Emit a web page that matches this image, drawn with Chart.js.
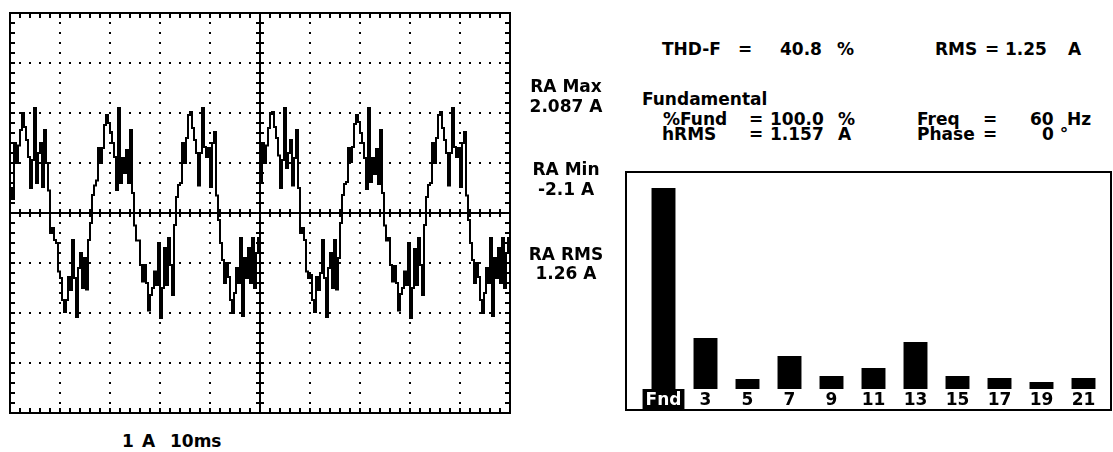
<!DOCTYPE html>
<html>
<head>
<meta charset="utf-8">
<script src="https://cdn.jsdelivr.net/npm/chart.js@4.4.1/dist/chart.umd.min.js"></script>
<style>
  html, body { margin: 0; padding: 0; background: #fff; }
  #page { position: relative; width: 1113px; height: 452px; overflow: hidden;
          font-family: "DejaVu Sans", sans-serif; font-weight: bold; font-size: 17px; line-height: 17px; color: #000; }
  .t { position: absolute; white-space: pre; }
  .c { position: absolute; left: 511px; width: 110px; text-align: center; white-space: pre; }
  #scope { position: absolute; left: 0; top: 0; }
  #harm { position: absolute; left: 625px; top: 171px; }
</style>
</head>
<body>
<div id="page">
  <canvas id="scope" width="520" height="420"></canvas>
  <canvas id="harm" width="487" height="240"></canvas>

  <div class="c" style="top:78px">RA Max</div>
  <div class="c" style="top:98px">2.087 A</div>
  <div class="c" style="top:161px">RA Min</div>
  <div class="c" style="top:181px">-2.1 A</div>
  <div class="c" style="top:246px">RA RMS</div>
  <div class="c" style="top:265px">1.26 A</div>

  <div class="t" style="left:122px; top:433px">1</div>
  <div class="t" style="left:142px; top:433px">A</div>
  <div class="t" style="left:170px; top:433px">10ms</div>

  <div class="t" style="left:662px; top:41px">THD-F</div>
  <div class="t" style="left:738px; top:41px">=</div>
  <div class="t" style="left:780px; top:41px">40.8</div>
  <div class="t" style="left:837px; top:41px">%</div>
  <div class="t" style="left:935px; top:41px">RMS</div>
  <div class="t" style="left:985px; top:41px">=</div>
  <div class="t" style="left:1005px; top:41px">1.25</div>
  <div class="t" style="left:1068px; top:41px">A</div>

  <div class="t" style="left:642px; top:91px">Fundamental</div>
  <div class="t" style="left:663px; top:111px">%Fund</div>
  <div class="t" style="left:749px; top:111px">=</div>
  <div class="t" style="left:770px; top:111px">100.0</div>
  <div class="t" style="left:838px; top:111px">%</div>
  <div class="t" style="left:917px; top:111px">Freq</div>
  <div class="t" style="left:983px; top:111px">=</div>
  <div class="t" style="left:1030px; top:111px">60</div>
  <div class="t" style="left:1067px; top:111px">Hz</div>

  <div class="t" style="left:662px; top:126px">hRMS</div>
  <div class="t" style="left:749px; top:126px">=</div>
  <div class="t" style="left:770px; top:126px">1.157</div>
  <div class="t" style="left:838px; top:126px">A</div>
  <div class="t" style="left:917px; top:126px">Phase</div>
  <div class="t" style="left:983px; top:126px">=</div>
  <div class="t" style="left:1042px; top:126px">0 °</div>
</div>

<script>
// scope trace, amps, one sample every 0.4 ms (cycle by cycle)
const sampleMs = 0.4;
const cycle1 = [0.5, 0.28, 1.4, 1.0, 1.35, 1.66, 2.0, 1.72, 1.46, 1.12, 0.5, 1.06, 2.1, 0.6, 1.2, 1.4, 0.52, 1.66, 1.0, 0.45,
  -0.4, -0.3, -0.54, -0.6, -1.17, -1.3, -1.74, -1.98, -1.74, -1.28, -1.54, -0.54, -1.3, -2.08, -1.1, -0.8, -1.5, -0.9, -1.53, -0.54, -0.2];
const cycle2 = [0.36, 0.55, 0.65, 1.3, 1.0, 1.3, 1.76, 1.96, 1.8, 1.62, 1.4, 1.12, 0.46, 2.1, 0.6, 1.1, 0.8, 1.26, 0.6, 1.66, 0.4,
  -0.25, -0.55, -0.55, -1.04, -1.37, -1.04, -1.4, -1.95, -1.64, -1.5, -1.17, -1.44, -0.6, -2.1, -1.5, -0.7, -1.44, -0.5, -1.04, -1.64, -0.24];
const cycle3 = [0.32, 0.56, 0.6, 1.4, 1.0, 1.5, 1.96, 2.02, 1.7, 1.46, 1.2, 0.55, 1.2, 2.1, 1.32, 1.12, 1.3, 0.52, 1.4, 1.62, 0.35,
  -0.14, -0.6, -0.94, -1.4, -1.0, -1.28, -1.74, -2.0, -1.6, -1.1, -1.4, -0.5, -2.06, -0.9, -1.3, -0.7, -1.4, -0.5, -1.5, -0.8, -0.5];
const cycle4 = [0.6, 1.4, 1.0, 1.35, 1.7, 1.98, 2.02, 1.72, 1.5, 1.15, 0.5, 1.06, 2.1, 0.9, 1.2, 1.46, 0.55, 1.1, 1.66, 0.5,
  -0.4, -0.3, -0.54, -1.17, -1.3, -1.24, -1.74, -1.98, -1.28, -1.54, -1.2, -0.54, -1.3, -2.08, -1.1, -0.8, -1.5, -0.54, -1.53, -0.9, -0.2];
const cycle5 = [0.36, 0.58, 0.62, 1.3, 1.02, 1.32, 1.78, 1.96, 1.82, 1.6, 1.4, 1.1, 0.48, 2.1, 0.62, 1.1, 0.78, 1.28, 0.58, 1.66, 0.4,
  -0.25, -0.55, -0.5, -1.04, -1.37, -1.06, -1.4, -1.95, -1.62, -1.5, -1.17, -1.44, -0.6, -2.1, -1.5, -0.72, -1.44, -0.5, -1.04, -1.64, -0.24];
const cycle6 = [0.32, 0.56, 0.6, 1.4, 1.0, 1.5, 1.96, 2.02, 1.7, 1.46, 1.2, 0.55, 1.2, 2.1, 1.32, 1.12, 1.3, 0.52, 1.4, 1.62, 0.35,
  -0.14, -0.6, -0.94, -1.4, -1.0, -1.28, -1.74, -2.0, -1.6, -1.1, -1.4, -0.5, -2.06, -0.9, -1.3, -0.7, -1.4, -0.5, -1.5, -0.8, -0.5];
const currentA = [...cycle1, ...cycle2, ...cycle3, ...cycle4, ...cycle5, ...cycle6];

// harmonic spectrum, % of fundamental
const harmonicLabels = ["Fnd", "3", "5", "7", "9", "11", "13", "15", "17", "19", "21"];
const harmonicPct = [100, 25.4, 5.0, 16.4, 6.5, 10.4, 23.4, 6.5, 5.5, 3.5, 5.5];

const trace = currentA.map((v, i) => ({ x: i * sampleMs, y: v }));
trace.push({ x: 100, y: currentA[currentA.length - 1] });

// graticule: dotted divisions, centre cross and frame with small ticks
const scopeGrid = {
  id: "scopeGrid",
  beforeDatasetsDraw(chart) {
    const { ctx, chartArea: a, scales: { x, y } } = chart;
    ctx.save();
    ctx.fillStyle = "#000";
    for (let d = 1; d < 10; d++) {
      if (d === 5) continue;
      const px = Math.round(x.getPixelForValue(d * 10));
      for (let m = 1; m < 40; m++) {
        ctx.fillRect(px - 1, Math.round(y.getPixelForValue(-4 + m * 0.2)) - 1, 2, 2);
      }
    }
    for (let d = -3; d <= 3; d++) {
      if (d === 0) continue;
      const py = Math.round(y.getPixelForValue(d));
      for (let m = 1; m < 50; m++) {
        ctx.fillRect(Math.round(x.getPixelForValue(m * 2)) - 1, py - 1, 2, 2);
      }
    }
    const cx = Math.round(x.getPixelForValue(50));
    const cy = Math.round(y.getPixelForValue(0));
    ctx.fillRect(cx - 1, a.top, 2, a.bottom - a.top);
    ctx.fillRect(a.left, cy - 1, a.right - a.left, 2);
    for (let m = 1; m < 50; m++) {
      const px = Math.round(x.getPixelForValue(m * 2));
      ctx.fillRect(px - 1, cy - 4, 2, 8);
      ctx.fillRect(px - 1, a.top, 2, 5);
      ctx.fillRect(px - 1, a.bottom - 5, 2, 5);
    }
    for (let m = 1; m < 40; m++) {
      const py = Math.round(y.getPixelForValue(-4 + m * 0.2));
      ctx.fillRect(cx - 4, py - 1, 8, 2);
      ctx.fillRect(a.left, py - 1, 5, 2);
      ctx.fillRect(a.right - 5, py - 1, 5, 2);
    }
    ctx.lineWidth = 2;
    ctx.strokeStyle = "#000";
    ctx.strokeRect(a.left, a.top, a.right - a.left, a.bottom - a.top);
    ctx.restore();
  }
};

new Chart(document.getElementById("scope"), {
  type: "line",
  data: {
    datasets: [{
      data: trace,
      borderColor: "#000",
      borderWidth: 2,
      pointRadius: 0,
      stepped: true,
      fill: false
    }]
  },
  options: {
    responsive: false,
    animation: false,
    events: [],
    layout: { padding: { left: 10, top: 13, right: 10, bottom: 7 } },
    plugins: { legend: { display: false }, tooltip: { enabled: false } },
    scales: {
      x: { type: "linear", display: false, min: 0, max: 100 },
      y: { display: false, min: -4, max: 4 }
    }
  },
  plugins: [scopeGrid]
});

const harmBox = {
  id: "harmBox",
  afterDraw(chart) {
    const { ctx, width, height } = chart;
    ctx.save();
    ctx.strokeStyle = "#000";
    ctx.lineWidth = 2;
    ctx.strokeRect(1, 1, width - 2, height - 2);
    ctx.restore();
  }
};

new Chart(document.getElementById("harm"), {
  type: "bar",
  data: {
    labels: harmonicLabels,
    datasets: [{
      data: harmonicPct,
      backgroundColor: "#000",
      borderWidth: 0,
      barPercentage: 0.57,
      categoryPercentage: 1
    }]
  },
  options: {
    responsive: false,
    animation: false,
    events: [],
    layout: { padding: { left: 17.5, right: 7.5, top: 4, bottom: 0 } },
    plugins: { legend: { display: false }, tooltip: { enabled: false } },
    scales: {
      x: {
        grid: { display: false, drawTicks: false },
        border: { display: false },
        ticks: {
          padding: 1,
          autoSkip: false,
          maxRotation: 0,
          font: { family: "DejaVu Sans", size: 17, weight: "bold" },
          color: (c) => (c.index === 0 ? "#fff" : "#000"),
          showLabelBackdrop: (c) => c.index === 0,
          backdropColor: "#000",
          backdropPadding: { left: 3, right: 3, top: 1, bottom: 1 }
        },
        afterFit: (s) => { s.height = 22; }
      },
      y: { display: false, min: 0, max: 106.5 }
    }
  },
  plugins: [harmBox]
});
</script>
</body>
</html>
